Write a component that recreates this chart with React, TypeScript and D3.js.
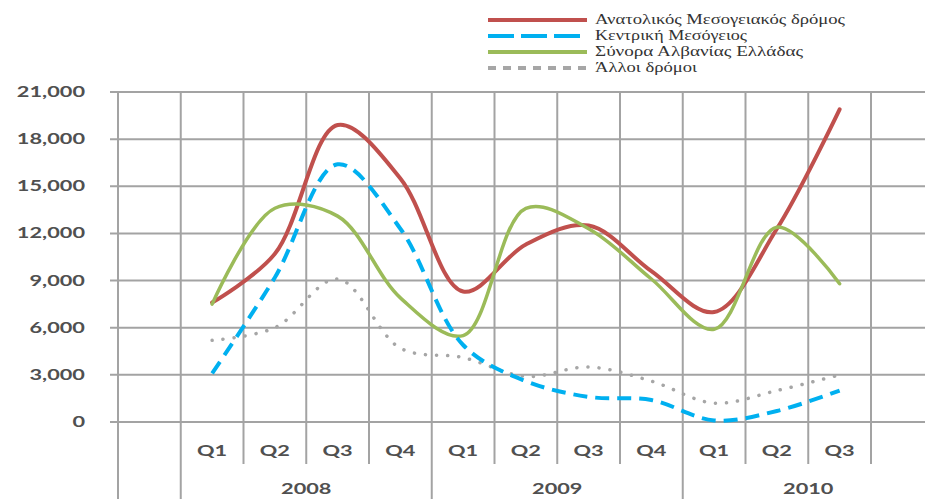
import React, { useEffect, useRef } from 'react';
import * as d3 from 'd3';

// quarterly values (Q1 2008 .. Q3 2010)
const quarters = ['Q1', 'Q2', 'Q3', 'Q4', 'Q1', 'Q2', 'Q3', 'Q4', 'Q1', 'Q2', 'Q3', ''];
const years = ['2008', '2009', '2010'];
const eastMed = [7600, 10700, 18900, 15500, 8300, 11300, 12500, 9600, 7000, 12300, 19900];
const centralMed = [3100, 9200, 16400, 12300, 4900, 2600, 1600, 1400, 100, 700, 2000];
const albaniaGreece = [7500, 13600, 13100, 7900, 5500, 13600, 12300, 9100, 5900, 12400, 8800];
const otherRoutes = [5200, 6000, 9100, 4700, 4100, 2900, 3500, 2600, 1200, 2000, 3000];
const yTicks = [0, 3000, 6000, 9000, 12000, 15000, 18000, 21000];

const seriesNames = [
  'Ανατολικός Μεσογειακός δρόμος',
  'Κεντρική Μεσόγειος',
  'Σύνορα Αλβανίας Ελλάδας',
  'Άλλοι δρόμοι',
];

export default function App() {
  const svgRef = useRef<SVGSVGElement | null>(null);

  useEffect(() => {
    const width = 925;
    const height = 499;
    const left = 118;
    const top = 92;
    const bottom = 422;
    const colW = 62.75;
    const stretch = 1.45; // the source image is stretched horizontally

    const svg = d3.select(svgRef.current)
      .attr('width', width)
      .attr('height', height)
      .style('background', '#fff');

    svg.selectAll('*').remove();

    const x = d3.scaleBand<number>()
      .domain(d3.range(13))
      .range([left, left + 13 * colW])
      .paddingInner(0)
      .paddingOuter(0);

    const y = d3.scaleLinear()
      .domain([0, 21000])
      .range([bottom, top]);

    const grid = '#a3a3a3';
    const labelStyle = (t: d3.Selection<SVGTextElement, unknown, null, undefined>) => t
      .style('font-family', 'Lato, sans-serif')
      .style('font-size', '15px')
      .style('font-weight', 'bold')
      .style('fill', '#505050');

    // horizontal grid + y labels
    yTicks.forEach((t) => {
      svg.append('line')
        .attr('x1', 110).attr('x2', width)
        .attr('y1', y(t)).attr('y2', y(t))
        .attr('stroke', grid).attr('stroke-width', 2);
      svg.append('text')
        .attr('transform', `translate(85,${y(t) + 5}) scale(${stretch},1)`)
        .attr('text-anchor', 'end')
        .call(labelStyle)
        .text(d3.format(',')(t));
    });

    // vertical grid
    d3.range(13).forEach((i) => {
      svg.append('line')
        .attr('x1', x(i)!).attr('x2', x(i)!)
        .attr('y1', top).attr('y2', bottom)
        .attr('stroke', grid).attr('stroke-width', 2);
    });

    // category axis: quarter ticks and year groups
    svg.append('line')
      .attr('x1', left).attr('x2', left)
      .attr('y1', bottom).attr('y2', height)
      .attr('stroke', grid).attr('stroke-width', 2);

    quarters.forEach((q, i) => {
      const x0 = x(i + 1)!;
      const isGroup = i % 4 === 0;
      svg.append('line')
        .attr('x1', x0).attr('x2', x0)
        .attr('y1', bottom).attr('y2', isGroup ? height : 464)
        .attr('stroke', grid).attr('stroke-width', 2);
      if (q) {
        svg.append('text')
          .attr('transform', `translate(${x0 + x.bandwidth() / 2},${456}) scale(${stretch},1)`)
          .attr('text-anchor', 'middle')
          .call(labelStyle)
          .text(q);
      }
    });

    years.forEach((yr, g) => {
      const cx = x(1 + g * 4)! + 2 * colW;
      svg.append('text')
        .attr('transform', `translate(${cx},${494}) scale(${stretch},1)`)
        .attr('text-anchor', 'middle')
        .call(labelStyle)
        .text(yr);
    });

    // lines
    const line = d3.line<number>()
      .x((_, i) => x(i + 1)! + x.bandwidth() / 2)
      .y((d) => y(d))
      .curve(d3.curveCatmullRom.alpha(0.5));

    const styles = [
      { data: eastMed, color: '#c0504d', w: 4, dash: null, legendDash: null, cap: 'round', lw: 4, lcap: 'butt' },
      { data: centralMed, color: '#00b0f0', w: 4, dash: '14 8', legendDash: '26 7', cap: 'butt', lw: 4, lcap: 'butt' },
      { data: albaniaGreece, color: '#9bbb59', w: 3.5, dash: null, legendDash: null, cap: 'round', lw: 4, lcap: 'butt' },
      { data: otherRoutes, color: '#a6a6a6', w: 3.5, dash: '0.1 11', legendDash: '8 7', cap: 'round', lw: 4, lcap: 'butt' },
    ];

    // blue dashed line sits on top of the others
    [0, 2, 3, 1].forEach((k) => {
      const s = styles[k];
      svg.append('path')
        .datum(s.data)
        .attr('d', line)
        .attr('fill', 'none')
        .attr('stroke', s.color)
        .attr('stroke-width', s.w)
        .attr('stroke-linecap', s.cap)
        .attr('stroke-dasharray', s.dash);
    });

    // legend
    const legendW = [250, 152, 208, 102];
    styles.forEach((s, i) => {
      const ly = 20 + i * 16;
      svg.append('line')
        .attr('x1', 488).attr('x2', 587)
        .attr('y1', ly).attr('y2', ly)
        .attr('stroke', s.color)
        .attr('stroke-width', s.lw)
        .attr('stroke-linecap', s.lcap)
        .attr('stroke-dasharray', s.legendDash);
      svg.append('text')
        .attr('x', 595)
        .attr('y', ly + 4)
        .attr('textLength', legendW[i])
        .attr('lengthAdjust', 'spacingAndGlyphs')
        .style('font-family', '"Liberation Serif", serif')
        .style('font-size', '14px')
        .style('fill', '#333')
        .text(seriesNames[i]);
    });
  }, []);

  return <svg ref={svgRef} style={{ position: 'absolute', left: 0, top: 0, display: 'block' }}></svg>;
}
